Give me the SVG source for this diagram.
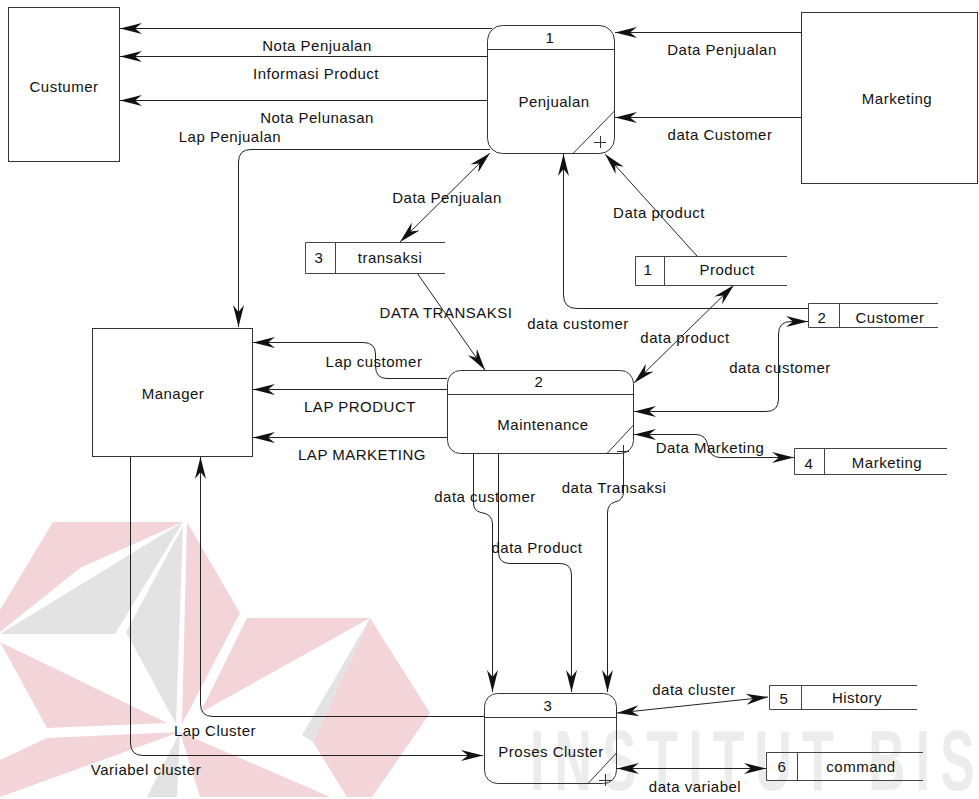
<svg xmlns="http://www.w3.org/2000/svg" width="979" height="799" viewBox="0 0 979 799">
  <style>
    .lbl { font-family: "Liberation Sans", Arial, sans-serif; font-size: 15px; letter-spacing: 0.5px; fill: #111; text-anchor: middle; }
    .box { fill: none; stroke: #333; stroke-width: 1; }
    .st { fill: none; stroke: #444; stroke-width: 1; }
    .flow { fill: none; stroke: #222; stroke-width: 1; }
    .wm-p { fill: #f3d5d9; }
    .wm-g { fill: #e3e3e3; }
    .wm-t { font-family: "Liberation Sans", Arial, sans-serif; font-size: 86px; font-weight: bold; fill: #ececec; letter-spacing: 17px; }
  </style>
  <defs>
    <marker id="ah" viewBox="-23 -6 24 12" refX="0" refY="0" markerWidth="24" markerHeight="12" markerUnits="userSpaceOnUse" orient="auto-start-reverse">
      <path d="M0,0 L-22,-5.5 L-15,0 L-22,5.5 Z" fill="#111"/>
    </marker>
  </defs>

  <rect width="979" height="799" fill="#fff"/>

  <!-- background logo and lettering -->
  <g id="watermark">
    <polygon class="wm-p" points="53,522 183,522 80,568 0,632 0,610"/>
    <polygon class="wm-g" points="183,522 0,634 115,634"/>
    <polygon class="wm-g" points="183,526 126,632 176,724"/>
    <polygon class="wm-p" points="187,522 240,613 182,724"/>
    <polygon class="wm-p" points="0,642 167,723 47,728"/>
    <polygon class="wm-p" points="47,738 180,732 0,797 0,760"/>
    <polygon class="wm-g" points="180,732 147,797 177,797"/>
    <polygon class="wm-p" points="180,732 330,797 200,797"/>
    <polygon class="wm-p" points="247,618 370,618 200,713"/>
    <polygon class="wm-g" points="370,618 302,735 313,742"/>
    <polygon class="wm-p" points="370,618 430,713 372,797 347,797 313,742"/>
    <text class="wm-t" transform="translate(530,790) scale(0.6,1)">INSTITUT BIS</text>
  </g>

  <!-- data flows -->
  <g id="connectors">
    <path class="flow" d="M492,28.5 L120,28.5" marker-end="url(#ah)"/>
    <path class="flow" d="M487,56.5 L120,56.5" marker-end="url(#ah)"/>
    <path class="flow" d="M487,100.5 L120,100.5" marker-end="url(#ah)"/>
    <path class="flow" d="M490,149.5 L251,149.5 Q238.5,149.5 238.5,162 L238.5,327" marker-end="url(#ah)"/>
    <path class="flow" d="M801,32.5 L615,32.5" marker-end="url(#ah)"/>
    <path class="flow" d="M801,117.5 L615,117.5" marker-end="url(#ah)"/>
    <path class="flow" d="M400,242 L490,153" marker-start="url(#ah)" marker-end="url(#ah)"/>
    <path class="flow" d="M417,273 L485,370" marker-end="url(#ah)"/>
    <path class="flow" d="M697,256 L605,154" marker-end="url(#ah)"/>
    <path class="flow" d="M808,308.5 L577,308.5 Q563.5,308.5 563.5,295 L563.5,154" marker-end="url(#ah)"/>
    <path class="flow" d="M634,383 L734,285" marker-start="url(#ah)" marker-end="url(#ah)"/>
    <path class="flow" d="M634,411.5 L766,411.5 Q778.5,411.5 778.5,399 L778.5,334 Q778.5,321.5 791,321.5 L808,321.5" marker-start="url(#ah)" marker-end="url(#ah)"/>
    <path class="flow" d="M634,434.5 L696,434.5 Q706,434.5 708,446 Q710,457.5 720,457.5 L794,457.5" marker-start="url(#ah)" marker-end="url(#ah)"/>
    <path class="flow" d="M447,378.5 L387,378.5 Q375.5,378.5 375.5,366 L375.5,354 Q375.5,342.5 363,342.5 L253,342.5" marker-end="url(#ah)"/>
    <path class="flow" d="M447,389.5 L253,389.5" marker-end="url(#ah)"/>
    <path class="flow" d="M447,437.5 L253,437.5" marker-end="url(#ah)"/>
    <path class="flow" d="M473.5,453 L473.5,503 Q473.5,511 481,512.5 Q492.5,514 492.5,524 L492.5,692" marker-end="url(#ah)"/>
    <path class="flow" d="M498.5,453 L498.5,552 Q498.5,563.5 510,563.5 L560,563.5 Q571.5,563.5 571.5,575 L571.5,692" marker-end="url(#ah)"/>
    <path class="flow" d="M623.5,453 L623.5,492 Q623.5,500 615,502 Q607.5,504 607.5,513 L607.5,692" marker-end="url(#ah)"/>
    <path class="flow" d="M484,716.5 L213,716.5 Q200.5,716.5 200.5,704 L200.5,457" marker-end="url(#ah)"/>
    <path class="flow" d="M130.5,456 L130.5,743 Q130.5,755.5 143,755.5 L483,755.5" marker-end="url(#ah)"/>
    <path class="flow" d="M617,713 L768,697" marker-start="url(#ah)" marker-end="url(#ah)"/>
    <path class="flow" d="M617,768.5 L766,768.5" marker-start="url(#ah)" marker-end="url(#ah)"/>
  </g>

  <!-- flow labels -->
  <g id="flow-labels">
    <text class="lbl" x="317" y="51">Nota Penjualan</text>
    <text class="lbl" x="316" y="79">Informasi Product</text>
    <text class="lbl" x="317" y="123">Nota Pelunasan</text>
    <text class="lbl" x="230" y="142">Lap Penjualan</text>
    <text class="lbl" x="722" y="55">Data Penjualan</text>
    <text class="lbl" x="720" y="140">data Customer</text>
    <text class="lbl" x="447" y="203">Data Penjualan</text>
    <text class="lbl" x="659" y="218">Data product</text>
    <text class="lbl" x="446" y="318">DATA TRANSAKSI</text>
    <text class="lbl" x="578" y="329">data customer</text>
    <text class="lbl" x="685" y="343">data product</text>
    <text class="lbl" x="374" y="367">Lap customer</text>
    <text class="lbl" x="780" y="373">data customer</text>
    <text class="lbl" x="360" y="412">LAP PRODUCT</text>
    <text class="lbl" x="710" y="453">Data Marketing</text>
    <text class="lbl" x="362" y="460">LAP MARKETING</text>
    <text class="lbl" x="614" y="493">data Transaksi</text>
    <text class="lbl" x="485" y="502">data customer</text>
    <text class="lbl" x="537" y="553">data Product</text>
    <text class="lbl" x="694" y="695">data cluster</text>
    <text class="lbl" x="215" y="736">Lap Cluster</text>
    <text class="lbl" x="146" y="775">Variabel cluster</text>
    <text class="lbl" x="695" y="792">data variabel</text>
  </g>

  <!-- external entities -->
  <g id="ent-custumer">
    <rect class="box" x="8.5" y="7.5" width="111" height="154"/>
    <text class="lbl" x="64" y="92">Custumer</text>
  </g>
  <g id="ent-marketing">
    <rect class="box" x="801.5" y="12.5" width="176" height="171"/>
    <text class="lbl" x="897" y="104">Marketing</text>
  </g>
  <g id="ent-manager">
    <rect class="box" x="92.5" y="328.5" width="160" height="128"/>
    <text class="lbl" x="173" y="399">Manager</text>
  </g>

  <!-- processes -->
  <g id="proc-1">
    <rect class="box" x="487.5" y="25.5" width="127" height="128" rx="15"/>
    <path class="box" d="M487.5,49.5 L614.5,49.5 M573,153.5 L614.5,111 M594,142.5 L606,142.5 M600.5,136 L600.5,148"/>
    <text class="lbl" x="550" y="43">1</text>
    <text class="lbl" x="554" y="107">Penjualan</text>
  </g>
  <g id="proc-2">
    <rect class="box" x="447.5" y="370.5" width="186" height="83" rx="13"/>
    <path class="box" d="M447.5,394.5 L633.5,394.5 M607,453.5 L633.5,425 M617,451.5 L629,451.5 M623.5,445 L623.5,458"/>
    <text class="lbl" x="539" y="387">2</text>
    <text class="lbl" x="543" y="430">Maintenance</text>
  </g>
  <g id="proc-3">
    <rect class="box" x="484.5" y="693.5" width="132" height="90" rx="13"/>
    <path class="box" d="M484.5,717.5 L616.5,717.5 M588,783.5 L616.5,753 M599,780.5 L611,780.5 M605.5,774 L605.5,786"/>
    <text class="lbl" x="548" y="711">3</text>
    <text class="lbl" x="551" y="757">Proses Cluster</text>
  </g>

  <!-- data stores -->
  <g id="store-3">
    <path class="st" d="M445,242.5 L305.5,242.5 L305.5,273.5 L445,273.5 M335.5,242.5 L335.5,273.5"/>
    <text class="lbl" x="319" y="263">3</text>
    <text class="lbl" x="390" y="263">transaksi</text>
  </g>
  <g id="store-1">
    <path class="st" d="M787,256.5 L635.5,256.5 L635.5,285.5 L787,285.5 M664.5,256.5 L664.5,285.5"/>
    <text class="lbl" x="648" y="275">1</text>
    <text class="lbl" x="727" y="275">Product</text>
  </g>
  <g id="store-2">
    <path class="st" d="M938,303.5 L808.5,303.5 L808.5,327.5 L938,327.5 M839.5,303.5 L839.5,327.5"/>
    <text class="lbl" x="822" y="323">2</text>
    <text class="lbl" x="890" y="323">Customer</text>
  </g>
  <g id="store-4">
    <path class="st" d="M947,448.5 L794.5,448.5 L794.5,474.5 L947,474.5 M824.5,448.5 L824.5,474.5"/>
    <text class="lbl" x="809" y="469">4</text>
    <text class="lbl" x="887" y="468">Marketing</text>
  </g>
  <g id="store-5">
    <path class="st" d="M917,685.5 L769.5,685.5 L769.5,709.5 L917,709.5 M801.5,685.5 L801.5,709.5"/>
    <text class="lbl" x="784" y="704">5</text>
    <text class="lbl" x="857" y="703">History</text>
  </g>
  <g id="store-6">
    <path class="st" d="M923,752.5 L766.5,752.5 L766.5,780.5 L923,780.5 M797.5,752.5 L797.5,780.5"/>
    <text class="lbl" x="782" y="772">6</text>
    <text class="lbl" x="861" y="772">command</text>
  </g>
</svg>
